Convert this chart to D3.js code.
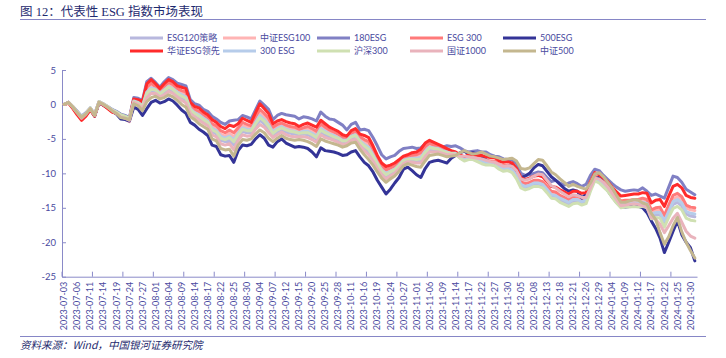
<!DOCTYPE html>
<html><head><meta charset="utf-8">
<script src="https://cdn.jsdelivr.net/npm/d3@7"></script>
<style>body{margin:0;background:#fff}svg{display:block}</style>
</head><body><svg id="c" width="726" height="358"></svg>
<script>
const dates = [
"2023-07-03","2023-07-04","2023-07-05","2023-07-06","2023-07-07","2023-07-10","2023-07-11","2023-07-12","2023-07-13","2023-07-14","2023-07-17","2023-07-18","2023-07-19","2023-07-20","2023-07-21","2023-07-24","2023-07-25","2023-07-26","2023-07-27","2023-07-28","2023-07-31",
"2023-08-01","2023-08-02","2023-08-03","2023-08-04","2023-08-07","2023-08-08","2023-08-09","2023-08-10","2023-08-11","2023-08-14","2023-08-15","2023-08-16","2023-08-17","2023-08-18","2023-08-21","2023-08-22","2023-08-23","2023-08-24","2023-08-25","2023-08-28","2023-08-29","2023-08-30","2023-08-31",
"2023-09-01","2023-09-04","2023-09-05","2023-09-06","2023-09-07","2023-09-08","2023-09-11","2023-09-12","2023-09-13","2023-09-14","2023-09-15","2023-09-18","2023-09-19","2023-09-20","2023-09-21","2023-09-22","2023-09-25","2023-09-26","2023-09-27","2023-09-28",
"2023-10-09","2023-10-10","2023-10-11","2023-10-12","2023-10-13","2023-10-16","2023-10-17","2023-10-18","2023-10-19","2023-10-20","2023-10-23","2023-10-24","2023-10-25","2023-10-26","2023-10-27","2023-10-30","2023-10-31",
"2023-11-01","2023-11-02","2023-11-03","2023-11-06","2023-11-07","2023-11-08","2023-11-09","2023-11-10","2023-11-13","2023-11-14","2023-11-15","2023-11-16","2023-11-17","2023-11-20","2023-11-21","2023-11-22","2023-11-23","2023-11-24","2023-11-27","2023-11-28","2023-11-29","2023-11-30",
"2023-12-01","2023-12-04","2023-12-05","2023-12-06","2023-12-07","2023-12-08","2023-12-11","2023-12-12","2023-12-13","2023-12-14","2023-12-15","2023-12-18","2023-12-19","2023-12-20","2023-12-21","2023-12-22","2023-12-25","2023-12-26","2023-12-27","2023-12-28","2023-12-29",
"2024-01-02","2024-01-03","2024-01-04","2024-01-05","2024-01-08","2024-01-09","2024-01-10","2024-01-11","2024-01-12","2024-01-15","2024-01-16","2024-01-17","2024-01-18","2024-01-19","2024-01-22","2024-01-23","2024-01-24","2024-01-25","2024-01-26","2024-01-29","2024-01-30","2024-01-31"];

const tickLabels = ["2023-07-03","2023-07-06","2023-07-11","2023-07-14","2023-07-19","2023-07-24","2023-07-27","2023-08-01","2023-08-04","2023-08-09","2023-08-14","2023-08-17","2023-08-22","2023-08-25","2023-08-30","2023-09-04","2023-09-07","2023-09-12","2023-09-15","2023-09-20","2023-09-25","2023-09-28","2023-10-11","2023-10-16","2023-10-19","2023-10-24","2023-10-27","2023-11-01","2023-11-06","2023-11-09","2023-11-14","2023-11-17","2023-11-22","2023-11-27","2023-11-30","2023-12-05","2023-12-08","2023-12-13","2023-12-18","2023-12-21","2023-12-26","2023-12-29","2024-01-04","2024-01-09","2024-01-12","2024-01-17","2024-01-22","2024-01-25","2024-01-30"];

const yTicks = [5, 0, -5, -10, -15, -20, -25];

const seriesNames = ["ESG120策略","中证ESG100","180ESG","ESG 300","500ESG","华证ESG领先","300 ESG","沪深300","国证1000","中证500"];

const esg120 = [0,0.3,-0.4,-1.2,-1.9,-1.4,-0.6,-1.6,0.3,0.0,-0.4,-0.9,-1.2,-1.7,-1.9,-2.2,
0.4,0.1,-0.4,1.4,2.0,1.9,1.4,1.8,2.2,1.9,1.4,1.0,0.6,-1.0,
-1.5,-1.9,-2.4,-2.8,-3.9,-4.3,-5.2,-5.4,-5.2,-5.9,
-4.7,-3.9,-4.1,-4.1,-3.1,-2.3,-2.8,-3.5,-4.4,-4.0,
-3.6,-4.0,-4.2,-4.3,-4.4,-4.3,-4.4,-4.7,-5.0,-4.0,
-4.4,-4.7,-4.9,-5.1,-5.5,-5.5,-4.9,-4.7,-5.7,-6.2,
-6.8,-7.7,-8.9,-9.9,-10.4,-10.0,-9.7,-9.1,-8.4,-8.1,
-8.1,-8.2,-8.1,-7.2,-6.6,-6.6,-6.7,-6.9,-7.1,-7.2,
-7.2,-7.75,-8.1,-7.9,-7.9,-8.1,-8.4,-8.6,-8.6,-8.7,
-9.2,-9.5,-9.4,-9.6,-10.5,-11.8,-12.1,-11.9,-11.6,-11.6,
-11.8,-12.5,-13.3,-13.4,-13.9,-14.2,-14.5,-14.1,-14.0,-14.3,
-14.1,-12.3,-10.9,-11.2,-11.8,-12.3,-13.2,-14.0,-14.7,-14.6,
-14.6,-14.5,-14.6,-14.4,-14.6,-16.2,-16.0,-16.0,-17.3,-15.8,
-14.5,-14.2,-14.7,-15.9,-16.2,-16.3];

const csiEsg100 = [0,0.3,-0.4,-1.3,-2.0,-1.4,-0.6,-1.6,0.4,0.0,-0.4,-0.9,-1.3,-1.8,-2.1,-2.5,
0.6,0.4,-0.1,2.1,2.7,2.4,1.8,2.3,2.8,2.5,2.0,1.6,1.4,-0.4,
-1.0,-1.3,-1.8,-2.2,-3.2,-3.5,-4.3,-4.6,-4.2,-4.7,
-3.9,-3.1,-3.3,-3.4,-2.3,-1.2,-1.8,-2.6,-3.7,-3.3,
-3.0,-3.3,-3.5,-3.6,-3.9,-3.7,-3.6,-3.9,-4.3,-3.2,
-3.7,-4.1,-4.3,-4.6,-5.0,-5.1,-4.4,-4.2,-5.1,-5.5,
-5.9,-7.0,-8.2,-9.3,-9.8,-9.5,-9.2,-8.6,-8.0,-7.8,
-7.6,-7.6,-7.4,-6.5,-6.0,-6.1,-6.3,-6.6,-6.8,-7.0,
-7.1,-7.6,-7.9,-7.7,-7.6,-7.9,-8.1,-8.3,-8.3,-8.4,
-8.9,-9.1,-9.0,-9.3,-10.1,-11.4,-11.7,-11.5,-11.2,-11.2,
-11.4,-12.1,-12.8,-12.9,-13.4,-13.7,-14.0,-13.6,-13.5,-13.8,
-13.7,-12.0,-10.6,-10.9,-11.4,-12.0,-12.8,-13.6,-14.2,-14.1,
-14.1,-14.0,-14.0,-13.9,-14.1,-15.6,-15.3,-15.3,-16.5,-15.0,
-13.7,-13.4,-13.9,-15.0,-15.3,-15.4];

const esg180 = [0,0.3,-0.3,-1.0,-1.7,-1.2,-0.5,-1.4,0.4,0.1,-0.3,-0.7,-1.0,-1.4,-1.6,-1.9,
1.0,0.9,0.6,3.3,3.8,3.2,2.5,3.3,3.9,3.6,3.1,2.9,2.7,0.7,
0.1,-0.1,-0.7,-1.0,-1.7,-2.1,-2.6,-2.9,-2.4,-2.3,
-2.2,-1.6,-1.8,-2.1,-0.8,0.5,-0.1,-0.7,-2.2,-1.6,
-1.3,-1.5,-1.6,-1.7,-2.1,-1.8,-1.9,-2.1,-2.4,-1.1,
-1.7,-2.1,-2.2,-2.6,-3.0,-3.7,-2.9,-2.6,-3.7,-3.6,
-3.8,-4.8,-6.0,-7.3,-7.9,-7.6,-7.4,-6.8,-6.4,-6.3,
-6.2,-6.4,-6.3,-5.7,-5.5,-5.7,-5.9,-6.2,-6.0,-6.1,
-6.0,-6.3,-6.7,-6.9,-6.8,-6.7,-6.9,-6.9,-7.3,-7.5,
-7.6,-7.9,-8.0,-8.0,-8.6,-10.0,-10.3,-10.2,-10.0,-9.8,
-9.9,-10.6,-11.2,-11.0,-11.4,-11.7,-11.4,-11.2,-11.5,-11.9,
-11.6,-10.3,-9.4,-9.6,-10.3,-10.9,-11.5,-12.0,-12.4,-12.6,
-12.5,-12.4,-12.5,-12.1,-12.6,-13.2,-13.0,-13.3,-13.6,-12.0,
-10.4,-10.6,-11.3,-12.3,-12.7,-13.1];

const esg300 = [0,0.2,-0.5,-1.4,-2.2,-1.6,-0.7,-1.7,0.3,-0.1,-0.5,-1.0,-1.3,-1.7,-1.9,-2.3,
0.7,0.5,0.1,2.5,3.1,2.6,2.0,2.6,3.2,2.9,2.3,2.0,1.8,-0.1,
-0.7,-1.0,-1.5,-1.9,-2.8,-3.1,-3.8,-4.1,-3.7,-4.1,
-3.4,-2.6,-2.9,-3.1,-1.8,-0.7,-1.3,-2.0,-3.3,-2.9,
-2.7,-3.0,-3.2,-3.3,-3.6,-3.4,-3.2,-3.5,-3.9,-2.8,
-3.3,-3.7,-4.0,-4.3,-4.8,-4.9,-4.2,-3.9,-4.7,-5.1,
-5.4,-6.6,-7.9,-8.9,-9.5,-9.2,-8.9,-8.3,-7.8,-7.6,
-7.4,-7.3,-7.0,-6.1,-5.6,-5.9,-6.1,-6.4,-6.6,-6.9,
-7.0,-7.5,-7.8,-7.6,-7.5,-7.8,-7.9,-8.1,-8.2,-8.2,
-8.7,-8.9,-8.8,-9.1,-9.9,-11.2,-11.5,-11.3,-11.0,-11.0,
-11.2,-11.9,-12.6,-12.7,-13.2,-13.5,-13.8,-13.4,-13.3,-13.6,
-13.5,-11.8,-10.4,-10.7,-11.2,-11.8,-12.6,-13.4,-14.0,-13.9,
-13.9,-13.8,-13.8,-13.6,-13.8,-15.3,-15.0,-14.9,-16.1,-14.6,
-13.2,-12.9,-13.4,-14.6,-14.9,-15.0];

const esg500 = [0,0.3,-0.5,-1.3,-2.1,-1.6,-0.7,-1.7,0.2,-0.1,-0.5,-1.0,-1.4,-2.1,-2.2,-2.4,
-0.4,-0.7,-1.6,-0.6,0.3,0.6,0.2,0.4,0.8,0.5,-0.1,-0.8,-1.3,-2.6,
-3.0,-3.6,-4.0,-4.5,-5.9,-6.1,-7.3,-7.5,-7.4,-8.4,
-6.7,-5.9,-6.0,-5.8,-5.0,-4.4,-4.9,-5.9,-6.2,-5.4,
-5.0,-5.6,-5.9,-6.2,-6.1,-6.2,-6.4,-6.9,-7.6,-6.3,
-6.7,-6.8,-6.9,-7.1,-7.4,-7.3,-6.9,-6.7,-7.6,-8.4,
-8.9,-9.8,-11.0,-12.0,-13.0,-12.3,-11.4,-10.6,-9.4,-9.1,
-9.6,-10.2,-10.6,-9.3,-8.4,-8.2,-8.1,-8.3,-8.5,-7.8,
-7.4,-7.0,-6.8,-7.2,-7.0,-7.2,-7.5,-8.0,-8.6,-8.8,
-9.0,-9.1,-9.0,-8.9,-9.6,-10.6,-10.4,-10.0,-9.2,-8.7,
-8.9,-9.7,-10.5,-11.0,-11.6,-12.2,-12.6,-12.4,-12.6,-13.6,
-13.0,-11.5,-10.8,-10.6,-11.4,-12.5,-13.4,-14.2,-14.8,-14.9,
-14.8,-14.7,-14.8,-15.0,-15.7,-16.9,-18.0,-19.4,-21.5,-20.0,
-18.4,-16.9,-18.9,-20.0,-20.8,-22.7];

const huazhengEsg = [0,0.2,-0.6,-1.5,-2.3,-1.7,-0.8,-1.7,0.3,-0.1,-0.6,-1.1,-1.3,-1.6,-1.8,-2.1,
0.8,0.7,0.4,3.0,3.6,3.0,2.3,3.0,3.6,3.3,2.7,2.5,2.3,0.3,
-0.3,-0.5,-1.1,-1.5,-2.2,-2.6,-3.2,-3.5,-3.0,-3.2,
-2.8,-2.0,-2.3,-2.6,-1.2,0.1,-0.6,-1.3,-2.8,-2.4,
-2.2,-2.5,-2.7,-2.8,-3.2,-2.9,-2.7,-3.0,-3.3,-2.3,
-2.8,-3.3,-3.6,-3.9,-4.4,-4.6,-3.8,-3.5,-4.3,-4.5,
-4.8,-6.0,-7.4,-8.5,-9.0,-8.8,-8.5,-8.0,-7.5,-7.3,
-7.0,-6.9,-6.5,-5.6,-5.2,-5.5,-5.8,-6.1,-6.4,-6.7,
-6.9,-7.3,-7.6,-7.3,-7.2,-7.4,-7.4,-7.6,-7.7,-7.7,
-8.2,-8.4,-8.3,-8.5,-9.3,-10.6,-10.9,-10.7,-10.4,-10.3,
-10.5,-11.2,-11.9,-12.0,-12.4,-12.7,-13.0,-12.6,-12.6,-12.9,
-12.8,-11.2,-9.9,-10.2,-10.7,-11.2,-12.0,-12.7,-13.3,-13.2,
-13.1,-13.0,-13.0,-12.8,-12.9,-14.3,-13.9,-13.8,-14.8,-13.3,
-11.9,-11.6,-12.1,-13.2,-13.5,-13.6];

const esg300b = [0,0.3,-0.4,-1.1,-1.9,-1.3,-0.5,-1.5,0.4,0.0,-0.3,-0.8,-1.1,-1.6,-1.8,-2.1,
0.5,0.3,-0.2,1.8,2.4,2.2,1.6,2.1,2.6,2.3,1.8,1.4,1.1,-0.6,
-1.2,-1.5,-2.0,-2.4,-3.5,-3.8,-4.6,-4.9,-4.6,-5.1,
-4.2,-3.4,-3.6,-3.7,-2.6,-1.6,-2.2,-2.9,-4.0,-3.5,
-3.2,-3.6,-3.8,-3.9,-4.1,-3.9,-3.9,-4.2,-4.6,-3.5,
-3.9,-4.3,-4.5,-4.8,-5.2,-5.2,-4.6,-4.4,-5.3,-5.8,
-6.2,-7.3,-8.5,-9.5,-10.0,-9.7,-9.4,-8.8,-8.1,-7.9,
-7.8,-7.8,-7.7,-6.8,-6.2,-6.3,-6.4,-6.7,-6.9,-7.1,
-7.1,-7.7,-8.0,-7.8,-7.8,-8.0,-8.2,-8.4,-8.5,-8.5,
-9.0,-9.3,-9.2,-9.5,-10.3,-11.6,-11.9,-11.7,-11.4,-11.4,
-11.6,-12.3,-13.1,-13.2,-13.6,-13.9,-14.2,-13.8,-13.8,-14.1,
-13.9,-12.2,-10.7,-11.0,-11.6,-12.2,-13.0,-13.8,-14.5,-14.4,
-14.4,-14.3,-14.3,-14.2,-14.4,-15.9,-15.7,-15.7,-16.9,-15.5,
-14.1,-13.8,-14.3,-15.5,-15.8,-15.9];

const hs300 = [0,0.3,-0.3,-1.1,-1.8,-1.3,-0.5,-1.5,0.4,0.1,-0.3,-0.8,-1.1,-1.5,-1.7,-2.0,
0.4,0.2,-0.3,1.6,2.2,2.1,1.5,2.0,2.5,2.2,1.6,1.2,0.9,-0.8,
-1.3,-1.7,-2.2,-2.6,-3.7,-4.0,-4.9,-5.1,-4.8,-5.4,
-4.4,-3.6,-3.8,-3.8,-2.8,-1.9,-2.4,-3.2,-4.2,-3.7,
-3.4,-3.7,-3.9,-4.0,-4.2,-4.1,-4.1,-4.4,-4.8,-3.7,
-4.1,-4.4,-4.7,-4.9,-5.3,-5.3,-4.7,-4.5,-5.4,-6.0,
-6.5,-7.5,-8.6,-9.6,-10.2,-9.8,-9.5,-8.9,-8.2,-8.0,
-7.9,-8.0,-7.9,-7.0,-6.3,-6.4,-6.5,-6.8,-7.0,-7.1,
-7.2,-7.8,-8.2,-8.0,-8.0,-8.3,-8.6,-8.8,-8.8,-8.9,
-9.4,-9.7,-9.6,-9.9,-10.8,-12.1,-12.4,-12.2,-11.9,-11.9,
-12.1,-12.8,-13.6,-13.7,-14.2,-14.5,-14.8,-14.4,-14.3,-14.6,
-14.4,-12.6,-11.1,-11.4,-12.0,-12.6,-13.5,-14.3,-15.0,-14.9,
-14.9,-14.8,-14.9,-14.8,-15.0,-16.6,-16.4,-16.5,-17.8,-16.4,
-15.1,-14.8,-15.3,-16.5,-16.8,-16.9];

const gz1000 = [0,0.3,-0.4,-1.2,-2.0,-1.4,-0.6,-1.6,0.3,0.0,-0.4,-0.9,-1.3,-1.8,-2.0,-2.3,
0.3,0.0,-0.6,1.0,1.6,1.6,1.1,1.4,1.9,1.6,1.1,0.6,0.2,-1.3,
-1.8,-2.3,-2.7,-3.1,-4.4,-4.7,-5.7,-5.9,-5.7,-6.6,
-5.2,-4.4,-4.6,-4.5,-3.6,-2.9,-3.3,-4.1,-4.8,-4.4,
-4.0,-4.4,-4.6,-4.7,-4.7,-4.7,-4.8,-5.1,-5.5,-4.4,
-4.8,-5.0,-5.2,-5.5,-5.8,-5.7,-5.2,-5.1,-6.0,-6.7,
-7.3,-8.2,-9.3,-10.2,-10.8,-10.4,-10.0,-9.3,-8.6,-8.3,
-8.4,-8.5,-8.5,-7.6,-6.9,-6.9,-6.9,-7.1,-7.3,-7.3,
-7.3,-7.5,-7.5,-7.6,-7.7,-7.8,-7.9,-8.1,-8.3,-8.4,
-8.7,-9.0,-8.9,-9.0,-9.6,-10.8,-11.0,-10.8,-10.4,-10.1,
-10.2,-11.0,-11.8,-12.1,-12.6,-13.0,-13.4,-13.1,-13.2,-13.5,
-13.5,-12.1,-10.7,-10.8,-11.3,-12.0,-12.9,-13.8,-14.7,-14.6,
-14.5,-14.4,-14.5,-14.7,-14.9,-16.4,-16.7,-17.4,-18.6,-17.6,
-16.5,-15.8,-17.1,-18.4,-19.1,-19.4];

const zz500 = [0,0.3,-0.4,-1.2,-1.9,-1.4,-0.6,-1.6,0.3,0.0,-0.4,-0.9,-1.3,-1.9,-2.0,-2.2,
0.1,-0.2,-0.9,0.4,1.0,1.2,0.8,1.0,1.4,1.1,0.6,0.0,-0.4,-1.8,
-2.2,-2.8,-3.2,-3.6,-5.0,-5.3,-6.4,-6.6,-6.5,-7.5,
-5.9,-5.1,-5.2,-5.0,-4.3,-3.7,-4.1,-4.9,-5.4,-4.9,
-4.5,-4.9,-5.1,-5.2,-5.1,-5.2,-5.4,-5.7,-6.1,-5.0,
-5.3,-5.5,-5.7,-5.9,-6.2,-6.0,-5.6,-5.5,-6.5,-7.3,
-8.0,-8.8,-9.8,-10.7,-11.3,-10.8,-10.4,-9.7,-8.9,-8.6,
-8.8,-9.0,-9.1,-8.2,-7.4,-7.3,-7.2,-7.4,-7.6,-7.5,
-7.4,-7.0,-6.7,-7.0,-7.2,-7.1,-6.9,-7.2,-7.5,-7.6,
-7.8,-8.0,-7.9,-7.8,-8.2,-9.3,-9.4,-9.2,-8.6,-8.0,
-8.1,-8.9,-9.8,-10.2,-10.8,-11.3,-11.9,-11.6,-11.9,-12.1,
-12.3,-11.4,-10.1,-9.9,-10.5,-11.3,-12.1,-13.2,-14.2,-14.2,
-14.0,-13.8,-13.9,-14.3,-14.5,-15.8,-16.7,-18.6,-20.3,-19.2,
-17.6,-16.4,-18.5,-20.0,-21.2,-22.3];

const seriesValues = [esg120, csiEsg100, esg180, esg300, esg500, huazhengEsg, esg300b, hs300, gz1000, zz500];
const seriesColors = ["#B8B8DE","#FFB4B4","#8080C4","#FF7A7A","#343497","#FF2B2B","#B6CCEA","#CFE0B2","#E9B3BC","#C4B78F"];

const svg = d3.select("#c");
const W = 726, H = 358;
const plot = {left: 62, right: 697, top: 70, bottom: 276.7};
const txtCol = "#4A4AA0", axisCol = "#8A8AC8";
const latin = "Lato, 'Noto Sans CJK SC', sans-serif";

// title
svg.append("text").attr("x", 20).attr("y", 16)
  .attr("font-family", "'Liberation Serif','Noto Sans CJK SC',serif")
  .attr("font-size", 12.5).attr("fill", "#1E2A6E")
  .text("图 12：代表性 ESG 指数市场表现");
svg.append("line").attr("x1", 20).attr("x2", 706).attr("y1", 19.5).attr("y2", 19.5)
  .attr("stroke", "#8686C6").attr("stroke-width", 1);

// footer
svg.append("line").attr("x1", 20).attr("x2", 706).attr("y1", 336.5).attr("y2", 336.5)
  .attr("stroke", "#8686C6").attr("stroke-width", 1);
svg.append("text").attr("x", 20).attr("y", 349)
  .attr("font-family", "'Noto Sans CJK SC',sans-serif").attr("font-style", "italic")
  .attr("font-size", 10.5).attr("fill", "#1E2A6E")
  .text("资料来源：Wind，中国银河证券研究院");

// scales
const x = d3.scaleBand().domain(dates).range([plot.left, plot.right]).paddingInner(0).paddingOuter(0);
const y = d3.scaleLinear().domain([-25, 5]).range([plot.bottom, plot.top]);
const cx = d => x(d) + x.bandwidth() / 2;

// y axis
const yAxis = svg.append("g").attr("transform", `translate(${plot.left},0)`)
  .call(d3.axisLeft(y).tickValues(yTicks).tickSize(-4).tickSizeOuter(0).tickPadding(6).tickFormat(d => String(d)));
yAxis.select(".domain").attr("stroke", axisCol);
yAxis.selectAll(".tick line").attr("stroke", axisCol);
yAxis.selectAll("text").attr("fill", txtCol).attr("font-family", latin).attr("font-size", 9.5);

// x axis with labels
const xAxis = svg.append("g").attr("transform", `translate(0,${plot.bottom})`)
  .call(d3.axisBottom(x).tickValues(tickLabels).tickSize(0).tickSizeOuter(0));
xAxis.select(".domain").attr("stroke", axisCol);
xAxis.selectAll("text").attr("fill", txtCol).attr("font-family", latin).attr("font-size", 9)
  .attr("transform", "rotate(-90)").attr("x", -5).attr("y", 0).attr("dy", "0.35em")
  .style("text-anchor", "end");
// boundary tick marks every 7 categories
const tickIdx = d3.range(0, dates.length, 7);
svg.append("g").selectAll("line").data(tickIdx).join("line")
  .attr("x1", i => x(dates[i])).attr("x2", i => x(dates[i]))
  .attr("y1", plot.bottom).attr("y2", plot.bottom - 5)
  .attr("stroke", axisCol).attr("stroke-width", 1);

// lines
const line = d3.line().x((v, i) => cx(dates[i])).y(v => y(v)).curve(d3.curveLinear);
svg.append("g").selectAll("path").data(seriesValues).join("path")
  .attr("d", line).attr("fill", "none")
  .attr("stroke", (d, i) => seriesColors[i]).attr("stroke-width", 3)
  .attr("stroke-linejoin", "round").attr("stroke-linecap", "round");

// legend
const colX = [130, 223, 317, 410, 503];
const rowY = [38, 51];
const lg = svg.append("g").selectAll("g").data(seriesNames).join("g")
  .attr("transform", (d, i) => `translate(${colX[i % 5]},${rowY[Math.floor(i / 5)]})`);
lg.append("line").attr("x1", 0).attr("x2", 33).attr("y1", 0).attr("y2", 0)
  .attr("stroke", (d, i) => seriesColors[i]).attr("stroke-width", 3);
lg.append("text").attr("x", 37).attr("y", 0).attr("dy", "0.35em")
  .attr("font-family", latin).attr("font-size", 9).attr("fill", txtCol)
  .text(d => d);
</script></body></html>
